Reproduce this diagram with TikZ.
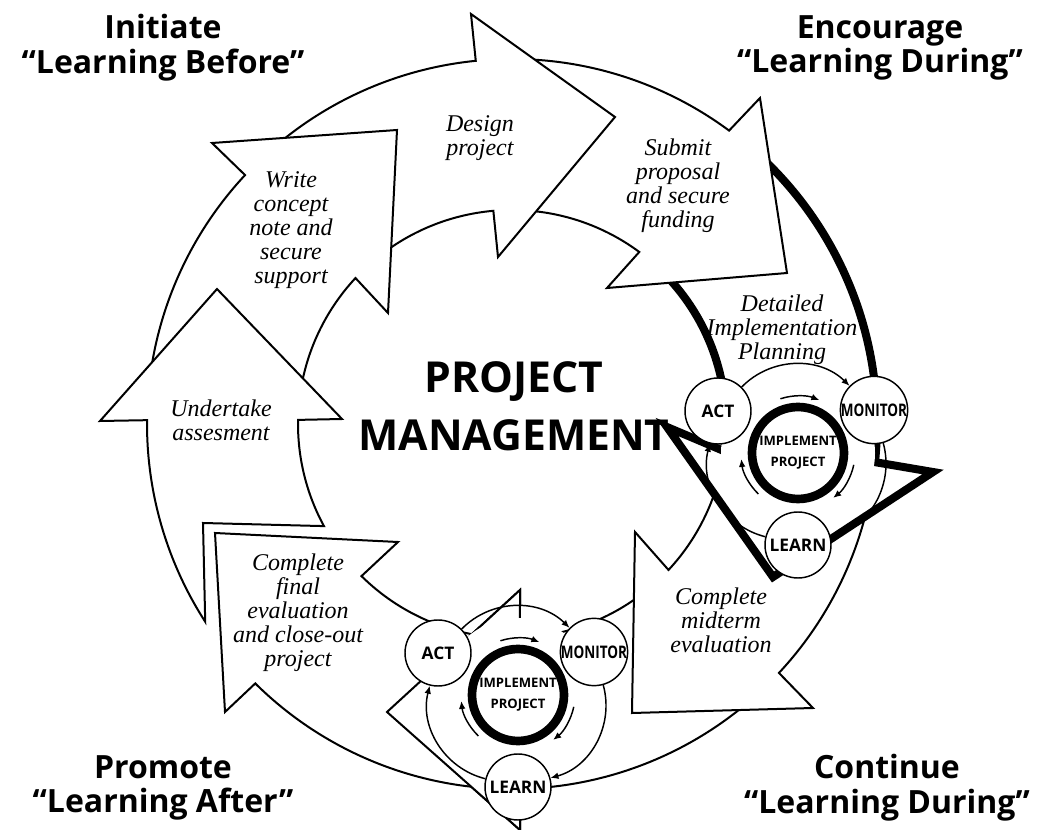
\documentclass[tikz,border=0pt]{standalone}
\usepackage{fontspec}
\newfontfamily\headfont{Open Sans}
\newfontfamily\notefont{Liberation Serif}
\usetikzlibrary{calc,arrows.meta}
\tikzset{
  block/.style={draw=black,fill=white,line width=1.5pt,line join=miter},
  thickblock/.style={draw=black,fill=white,line width=6pt,line join=miter},
  heading/.style={font=\headfont\bfseries\fontsize{24}{26}\selectfont,align=center,inner sep=0pt},
  pmtitle/.style={font=\headfont\bfseries\fontsize{32}{43.5}\selectfont,align=center,inner sep=0pt},
  stepnote/.style={font=\notefont\itshape\fontsize{18}{18}\selectfont,align=center,inner sep=0pt},
  phase/.style={circle,draw=black,fill=white,line width=1.1pt,minimum size=49.5pt,inner sep=0pt,font=\headfont\bfseries\fontsize{13}{13}\selectfont},
  hub/.style={circle,draw=black,line width=6.5pt,minimum size=69pt,inner sep=0pt,align=center,font=\headfont\bfseries\fontsize{9.8}{15.75}\selectfont},
  cyclink/.style={-{Latex[length=6pt,width=5pt]},line width=1.1pt},
  spin/.style={-{Latex[length=6pt,width=5pt]},line width=1.1pt},
}
\begin{document}
\begin{tikzpicture}[x=0.75pt,y=-0.75pt]
  \useasboundingbox (0,0) rectangle (1040,830);
  \coordinate (C) at (512,424);

  % ring of arrows, drawn so that each head lies over the next tail
  \path[block] ($(C)+(47:365)$) arc[start angle=47,end angle=88.74,radius=365] -- (520,830) -- (387,712) -- (520,590)
    -- ($(C)+(87.86:214)$) arc[start angle=87.86,end angle=47,radius=214] -- cycle;
  \path[block] ($(C)+(10:365)$) arc[start angle=10,end angle=43,radius=365] -- (813,708) -- (632,713) -- (635,532)
    -- ($(C)+(43:214)$) arc[start angle=43,end angle=10,radius=214] -- cycle;
  \path[thickblock] ($(C)+(311:365)$) arc[start angle=311,end angle=366,radius=365] -- (933,472) -- (773,577) -- (667,427)
    -- ($(C)+(367.3:214)$) arc[start angle=367.3,end angle=311,radius=214] -- cycle;
  \path[block] ($(C)+(271:365)$) arc[start angle=271,end angle=306.5,radius=365] -- (760,98) -- (787,273) -- (607,288)
    -- ($(C)+(306.5:214)$) arc[start angle=306.5,end angle=271,radius=214] -- cycle;
  \path[block] ($(C)+(228:365)$) arc[start angle=228,end angle=264.3,radius=365] -- (471,14) -- (615,117) -- (498,257)
    -- ($(C)+(265:214)$) arc[start angle=265,end angle=228,radius=214] -- cycle;
  \path[block] ($(C)+(185:365)$) arc[start angle=185,end angle=223,radius=365] -- (212,143) -- (397,130) -- (388,313)
    -- ($(C)+(223:214)$) arc[start angle=223,end angle=185,radius=214] -- cycle;
  \path[block] ($(C)+(147.2:365)$) arc[start angle=147.2,end angle=180.6,radius=365] -- (100,421) -- (217,289) -- (342,419)
    -- ($(C)+(181.1:214)$) arc[start angle=181.1,end angle=151.5,radius=214] -- (203,523) -- cycle;
  \path[block] ($(C)+(92:365)$) arc[start angle=92,end angle=134.7,radius=365] -- (225,712) -- (215,533) -- (398,542)
    -- ($(C)+(134.7:214)$) arc[start angle=134.7,end angle=92,radius=214] -- cycle;
  % bottom head again, over the last tail
  \fill[white] (520,830) -- (387,712) -- (520,590) -- cycle;
  \draw[line width=1.5pt,line join=miter] ($(C)+(88.74:365)$) -- (520,830) -- (387,712) -- (520,590) -- ($(C)+(87.86:214)$);

  % the two implementation cycles
  \foreach \cyc/\cx/\cy in {A/798/453,B/518/695}{
    \coordinate (\cyc-c) at (\cx,\cy);
    \fill[white] (\cyc-c) circle[radius=77];
    \node[hub] (\cyc-impl) at (\cyc-c) {IMPLEMENT\\PROJECT};
    \node[phase] (\cyc-act) at ($(\cyc-c)+(-80,-42)$) {ACT};
    \node[phase] (\cyc-mon) at ($(\cyc-c)+(76,-43)$) {\scalebox{0.78}[1]{MONITOR}};
    \node[phase] (\cyc-learn) at ($(\cyc-c)+(0,92)$) {LEARN};
    \draw[cyclink] (\cyc-act) to[bend left=45] (\cyc-mon);
    \draw[cyclink] (\cyc-mon) to[bend left=45] (\cyc-learn);
    \draw[cyclink] (\cyc-learn) to[bend left=45] (\cyc-act);
    \draw[spin] ($(\cyc-c)+(252:57)$) arc[start angle=252,end angle=292,radius=57];
    \draw[spin] ($(\cyc-c)+(12:57)$) arc[start angle=12,end angle=52,radius=57];
    \draw[spin] ($(\cyc-c)+(134:57)$) arc[start angle=134,end angle=174,radius=57];
  }

  % texts
  \node[heading] (initiate) at (163,48) {Initiate\\“Learning Before”};
  \node[heading] (encourage) at (880,48) {Encourage\\“Learning During”};
  \node[heading] (promote) at (163,788) {Promote\\“Learning After”};
  \node[heading] (continue) at (887,788) {Continue\\“Learning During”};
  \node[pmtitle] (pm) at (514,406) {PROJECT\\MANAGEMENT};
  \node[stepnote] (design) at (480,138) {Design\\project};
  \node[stepnote] (submit) at (678,186) {Submit\\proposal\\and secure\\funding};
  \node[stepnote] (detail) at (782,330) {Detailed\\Implementation\\Planning};
  \node[stepnote] (write) at (291,230) {Write\\concept\\note and\\secure\\support};
  \node[stepnote] (undertake) at (221,420) {Undertake\\assesment};
  \node[stepnote] (final) at (298,613) {Complete\\final\\evaluation\\and close-out\\project};
  \node[stepnote] (midterm) at (721,620) {Complete\\midterm\\evaluation};
\end{tikzpicture}
\end{document}
